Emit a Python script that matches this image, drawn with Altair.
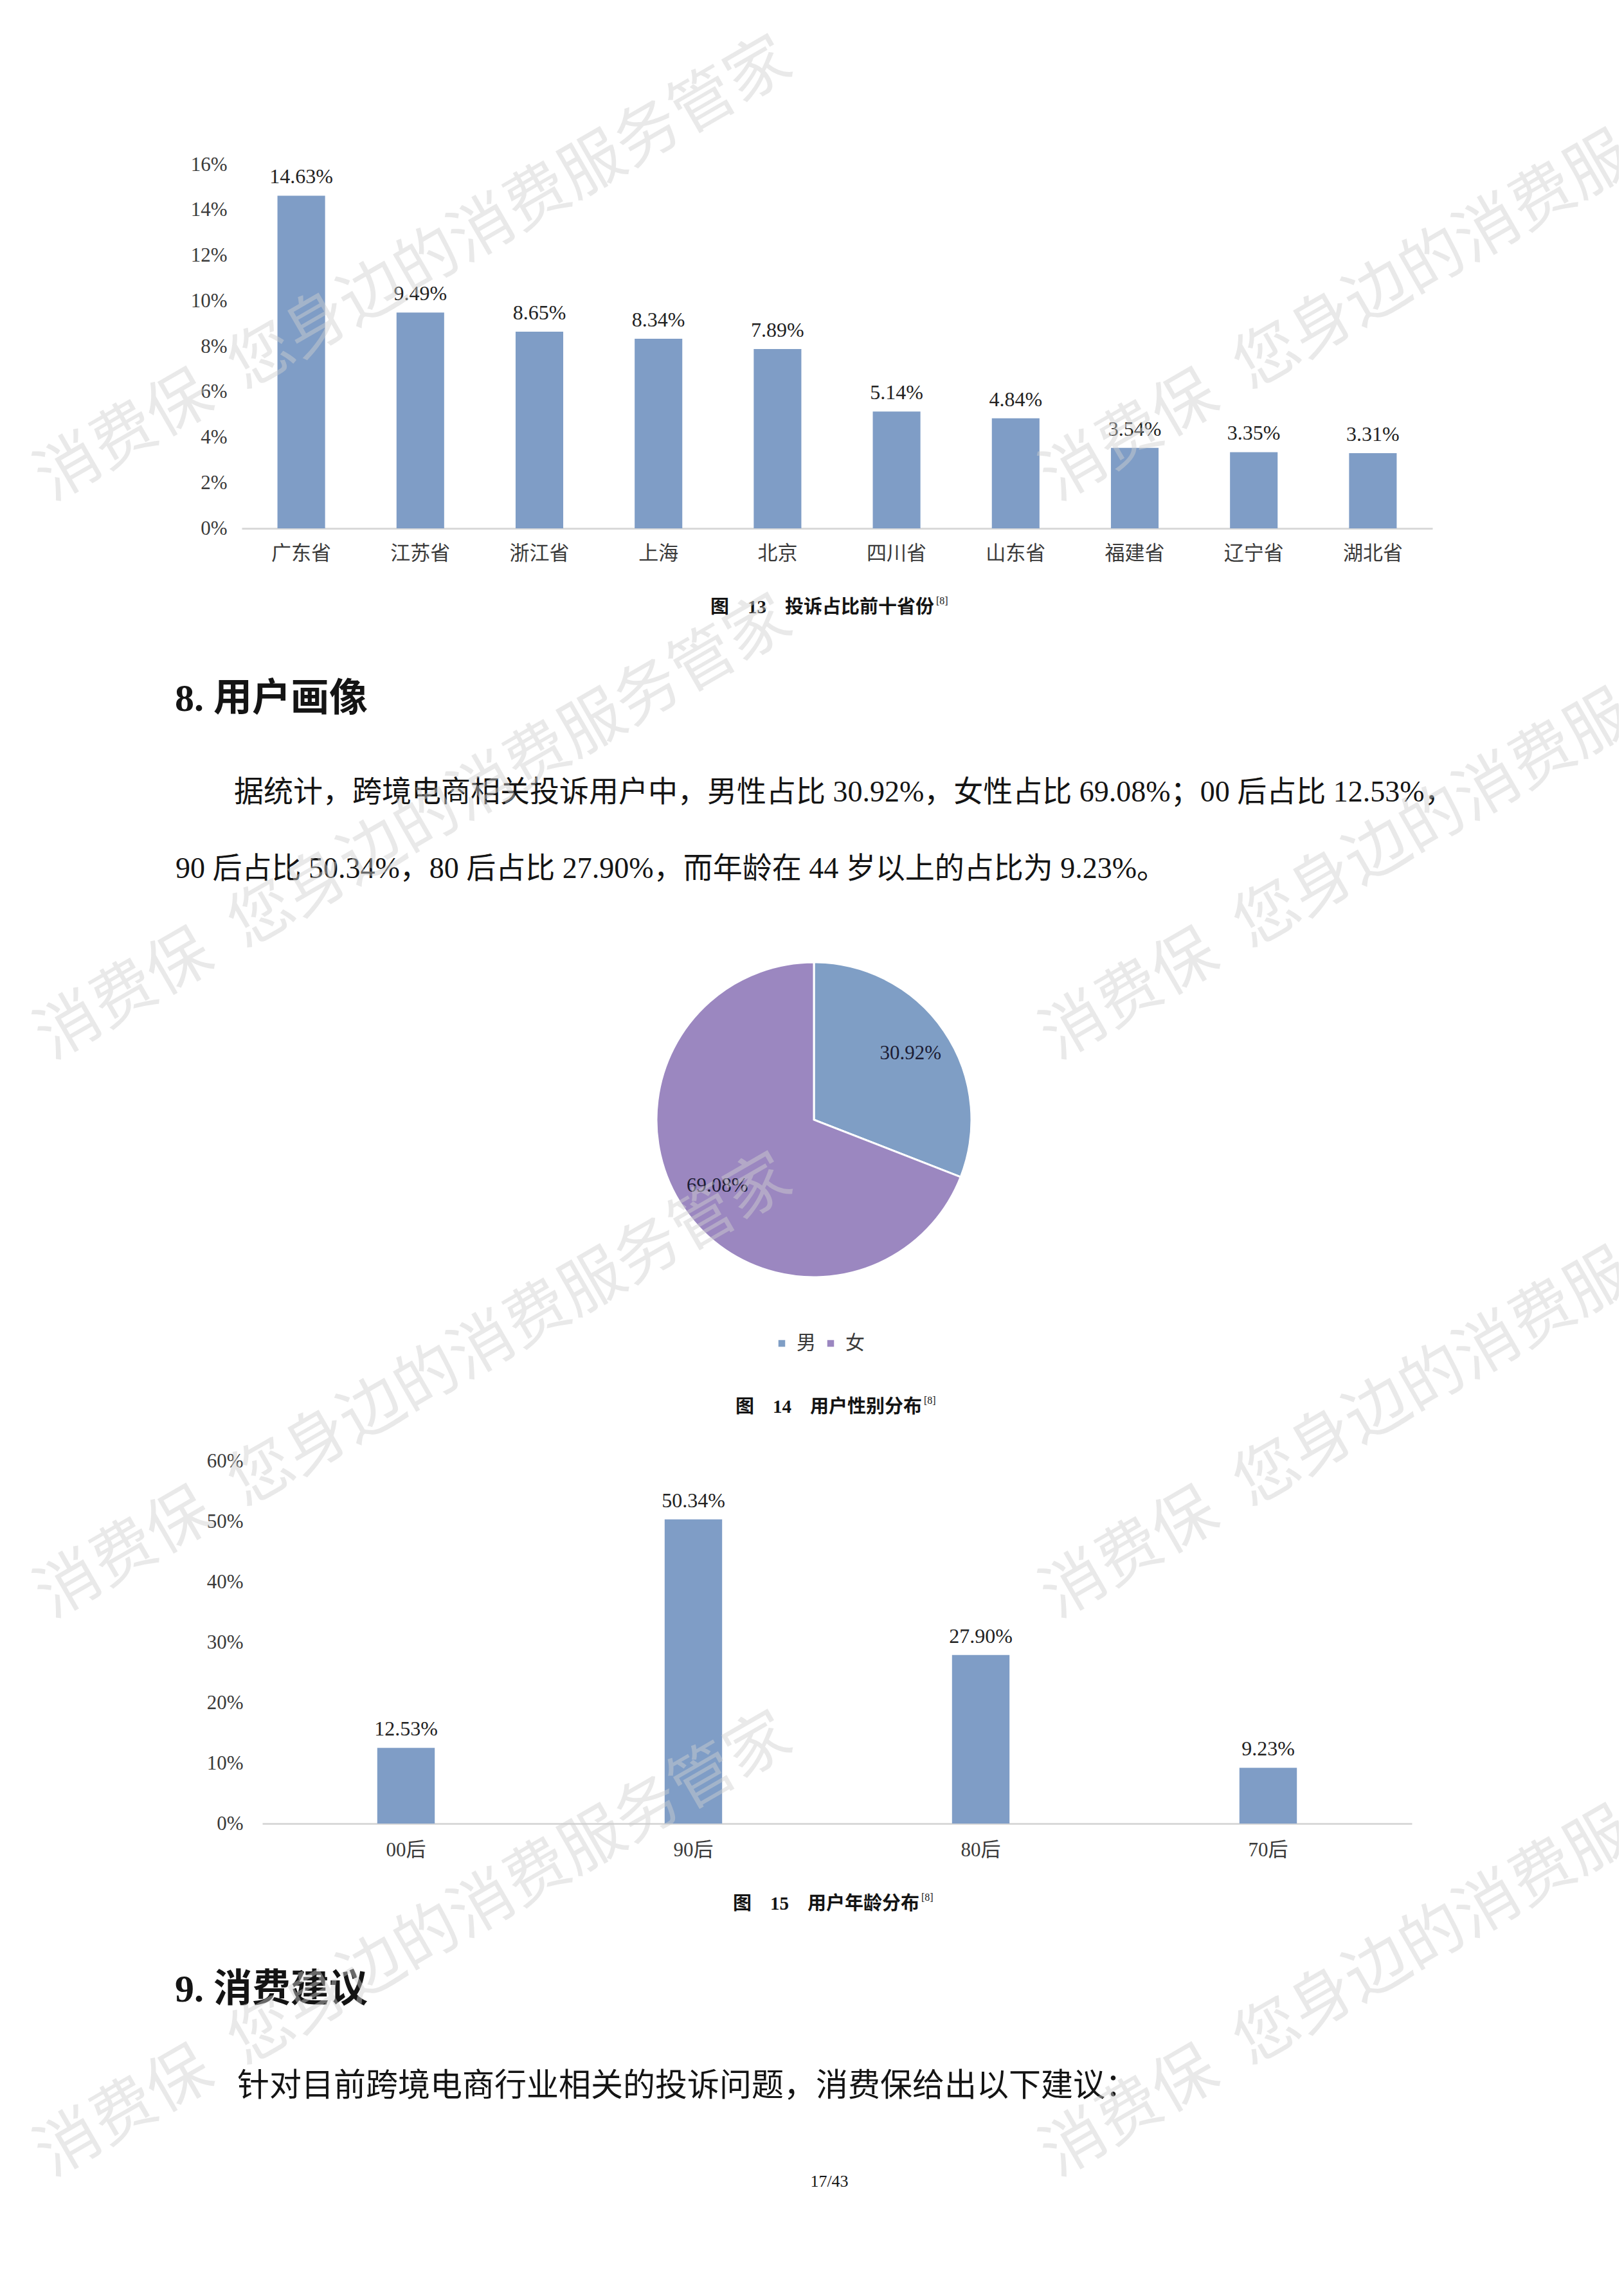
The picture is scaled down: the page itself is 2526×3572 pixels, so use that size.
import altair as alt
import pandas as pd

# ---------------- data ----------------
provinces = ["广东省", "江苏省", "浙江省", "上海", "北京", "四川省", "山东省", "福建省", "辽宁省", "湖北省"]
province_share = [14.63, 9.49, 8.65, 8.34, 7.89, 5.14, 4.84, 3.54, 3.35, 3.31]
province_ticks = [0, 2, 4, 6, 8, 10, 12, 14, 16]

genders = ["男", "女"]
gender_share = [30.92, 69.08]

age_groups = ["00后", "90后", "80后", "70后"]
age_share = [12.53, 50.34, 27.90, 9.23]
age_ticks = [0, 10, 20, 30, 40, 50, 60]

caption_13 = "图\u200313\u2003投诉占比前十省份"
caption_14 = "图\u200314\u2003用户性别分布"
caption_15 = "图\u200315\u2003用户年龄分布"
ref_mark = "[8]"
heading_8 = "8. 用户画像"
para_8 = [
    "据统计，跨境电商相关投诉用户中，男性占比 30.92%，女性占比 69.08%；00 后占比 12.53%，",
    "90 后占比 50.34%，80 后占比 27.90%，而年龄在 44 岁以上的占比为 9.23%。",
]
heading_9 = "9. 消费建议"
para_9 = "针对目前跨境电商行业相关的投诉问题，消费保给出以下建议："
page_no = "17/43"
watermark = "消费保\u2002您身边的消费服务管家"

# ---------------- styling ----------------
W, H = 2510, 3556
SERIF = "Liberation Serif, Noto Sans CJK SC"
CJK = "Noto Sans CJK SC"
BAR = "#7F9DC6"
PIE_M = "#7F9EC5"
PIE_F = "#9B87C0"
AXIS_GRAY = "#D9D9D9"
LABEL = "#3A3A3A"
TXT = "#141414"


def P(v):
    """page pixel -> plot pixel (8px page margin)"""
    return v - 8


def text_layer(txt, x, y, size, weight="normal", align="left", color=TXT,
               font=SERIF, angle=0, opacity=1.0):
    return alt.Chart(pd.DataFrame({"t": [txt]})).mark_text(
        align=align, baseline="middle", fontSize=size, fontWeight=weight,
        font=font, color=color, angle=angle, opacity=opacity
    ).encode(x=alt.value(P(x)), y=alt.value(P(y)), text="t:N")


def bar_panel(df, cats, ticks, x0, x1, y0, ytop, dom_max, pad_in, pad_out,
              ylab_pad, xlab_pad):
    x = alt.X("cat:N", sort=cats,
              scale=alt.Scale(range=[P(x0), P(x1)], paddingInner=pad_in, paddingOuter=pad_out),
              axis=alt.Axis(orient="bottom", offset=P(y0) - H, title=None, ticks=False,
                            domainColor=AXIS_GRAY, domainWidth=3, grid=False,
                            labelAngle=0, labelFont=SERIF, labelFontSize=31,
                            labelColor=LABEL, labelPadding=xlab_pad))
    y = alt.Y("v:Q",
              scale=alt.Scale(domain=[0, dom_max], range=[P(y0), P(ytop)], nice=False, zero=True),
              axis=alt.Axis(orient="left", offset=-P(x0), title=None, ticks=False, domain=False,
                            grid=False, values=ticks, labelExpr="datum.value + '%'",
                            labelFont=SERIF, labelFontSize=31, labelColor=LABEL,
                            labelPadding=ylab_pad))
    bars = alt.Chart().mark_bar(color=BAR).encode(x=x, y=y)
    labels = alt.Chart().mark_text(baseline="bottom", dy=-12, fontSize=32, font=SERIF,
                                   color="#222222").encode(x=x, y=y, text="lbl:N")
    return alt.layer(bars, labels, data=df).transform_calculate(
        lbl="format(datum.v, '.2f') + '%'")


# ---------------- chart 13 ----------------
df13 = pd.DataFrame({"cat": provinces, "v": province_share})
chart13 = bar_panel(df13, provinces, province_ticks, 376, 2228, 822, 256, 16,
                    0.6, 0.3, 23, 24)

# ---------------- chart 15 ----------------
df15 = pd.DataFrame({"cat": age_groups, "v": age_share})
chart15 = bar_panel(df15, age_groups, age_ticks, 408, 2196, 2837, 2273, 60,
                    0.8, 0.4, 30, 26)

# ---------------- chart 14 (pie) ----------------
df14 = pd.DataFrame({"g": genders, "v": gender_share})
cx, cy = P(1266), P(1742)
arc = alt.Chart().mark_arc(outerRadius=245, stroke="white", strokeWidth=3).encode(
    theta=alt.Theta("v:Q", stack=True),
    order=alt.Order("rk:Q"),
    color=alt.Color("g:N", scale=alt.Scale(domain=genders, range=[PIE_M, PIE_F]),
                    legend=alt.Legend(orient="none", legendX=P(1201), legendY=P(2075),
                                      direction="horizontal", title=None,
                                      symbolType="square", symbolSize=110,
                                      symbolStrokeWidth=0, labelFont=SERIF,
                                      labelFontSize=30, labelColor=LABEL,
                                      labelOffset=8, columnPadding=8)),
    x=alt.value(cx), y=alt.value(cy))
pie_text = alt.Chart().mark_text(radius=182, fontSize=31, font=SERIF, color="#1C1C34").encode(
    theta=alt.Theta("v:Q", stack=True),
    order=alt.Order("rk:Q"),
    text="lbl:N",
    x=alt.value(cx), y=alt.value(cy))
chart14 = alt.layer(arc, pie_text, data=df14).transform_window(
    rk="row_number()").transform_calculate(lbl="format(datum.v, '.2f') + '%'")

# ---------------- page text ----------------
texts = [
    text_layer(caption_13, 1453, 945, 29, weight="bold", align="right"),
    text_layer(ref_mark, 1456, 935, 16, align="left"),
    text_layer(heading_8, 272, 1088, 60, weight="bold"),
    text_layer(para_8[0], 364, 1233, 46),
    text_layer(para_8[1], 273, 1352, 46),
    text_layer(caption_14, 1434, 2189, 29, weight="bold", align="right"),
    text_layer(ref_mark, 1437, 2179, 16, align="left"),
    text_layer(caption_15, 1430, 2962, 29, weight="bold", align="right"),
    text_layer(ref_mark, 1433, 2952, 16, align="left"),
    text_layer(heading_9, 272, 3096, 60, weight="bold"),
    text_layer(para_9, 369, 3246, 50),
    text_layer(page_no, 1290, 3394, 26, align="center"),
]

# ---------------- watermarks ----------------
marks = []
for row_y in [729, 1598, 2467, 3336]:
    for col_x in [108, 1672]:
        marks.append(text_layer(watermark, col_x - 43, row_y + 25, 99, font=CJK,
                                color="#D0D0D0", angle=330, opacity=0.45))

chart = alt.layer(chart13, chart15, chart14, *texts, *marks).resolve_scale(
    x="independent", y="independent", theta="independent", color="independent"
).properties(
    width=W, height=H, padding=0, background="white",
    autosize=alt.AutoSizeParams(type="none")
).configure_view(stroke=None)

chart.save("out.html", embed_options={"renderer": "svg", "actions": False})
